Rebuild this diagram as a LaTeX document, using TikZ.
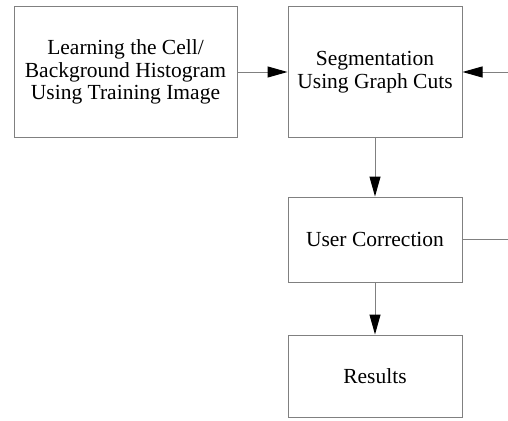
\documentclass[tikz,border=0pt]{standalone}
\usepackage{fontspec}
\setmainfont{Liberation Serif}
\usetikzlibrary{arrows.meta}
\definecolor{edgegray}{RGB}{128,128,128}
\tikzset{
  box/.style={draw=edgegray, line width=1pt, rectangle, inner sep=0pt, align=center,
    font=\fontsize{21.5pt}{22.5pt}\selectfont, text=black},
  flow/.style={draw=edgegray, line width=1pt, -{Triangle[length=20pt,width=11pt,black]}},
  plain/.style={draw=edgegray, line width=1pt}
}
\begin{document}
\begin{tikzpicture}[x=1pt,y=-1pt]
  \useasboundingbox (0,0) rectangle (508,420);
  \node[box, minimum width=223pt, minimum height=130pt] (learn) at (125.5,72)
    {Learning the Cell/\\Background Histogram\\Using Training Image};
  \node[box, minimum width=174pt, minimum height=130pt] (seg) at (375,72)
    {Segmentation\\Using Graph Cuts};
  \node[box, minimum width=174pt, minimum height=85pt] (corr) at (375,239.5)
    {User Correction};
  \node[box, minimum width=174pt, minimum height=82pt] (res) at (375,376)
    {Results};
  \coordinate (feedin) at (508,72);
  \coordinate (feedout) at (508,239.5);
  \draw[flow] (learn) -- (seg);
  \draw[flow] (feedin) -- (seg.east);
  \draw[flow] (seg) -- (corr);
  \draw[flow] (corr) -- (res);
  \draw[plain] (corr.east) -- (feedout);
\end{tikzpicture}
\end{document}
